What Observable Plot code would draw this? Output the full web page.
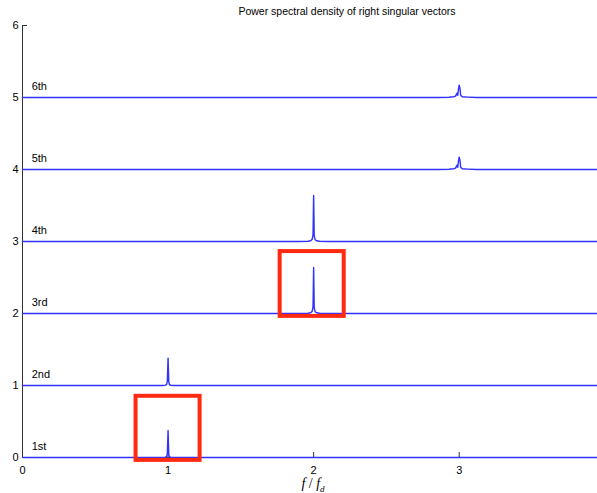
<!DOCTYPE html>
<html>
<head>
<meta charset="utf-8">
<script src="https://cdn.jsdelivr.net/npm/d3@7"></script>
<script src="https://cdn.jsdelivr.net/npm/@observablehq/plot@0.6"></script>
<style>
  body { margin: 0; background: #fff; }
  #wrap { position: relative; width: 597px; height: 493px; font-family: "Liberation Sans", Arial, sans-serif; }
  #title { position: absolute; left: 0; top: 5px; width: 694px; text-align: center; font-size: 10.5px; color: #000; }
  #xlabel { position: absolute; left: 0; top: 477px; width: 626px; text-align: center; font-family: "Liberation Serif", "Times New Roman", serif; font-style: italic; font-size: 14px; line-height: 14px; }
  #xlabel sub { font-size: 9px; }
</style>
</head>
<body>
<div id="wrap">
  <div id="title">Power spectral density of right singular vectors</div>
  <div id="xlabel">f<span style="font-style:normal"> / </span>f<sub>d</sub></div>
</div>
<script>
// Series labels and offsets
const labels = ["1st", "2nd", "3rd", "4th", "5th", "6th"];
const offsets = [0, 1, 2, 3, 4, 5];

// Normalized frequency samples (f/fd) and PSD values for each right singular vector
const freq1 = [0, 0.96, 0.98, 0.99, 0.995, 1.0, 1.005, 1.01, 1.02, 1.04, 3.95];
const psd1  = [0, 0, 0.004, 0.01, 0.05, 0.375, 0.04, 0.008, 0.003, 0, 0];
const freq2 = [0, 0.96, 0.98, 0.99, 0.995, 1.0, 1.005, 1.01, 1.02, 1.04, 3.95];
const psd2  = [0, 0, 0.004, 0.012, 0.06, 0.38, 0.05, 0.01, 0.003, 0, 0];
const freq3 = [0, 1.9, 1.96, 1.98, 1.99, 1.996, 2.0, 2.004, 2.01, 2.02, 2.04, 2.1, 3.95];
const psd3  = [0, 0, 0.004, 0.01, 0.03, 0.1, 0.64, 0.08, 0.025, 0.01, 0.003, 0, 0];
const freq4 = [0, 1.9, 1.96, 1.98, 1.99, 1.996, 2.0, 2.004, 2.01, 2.02, 2.04, 2.1, 3.95];
const psd4  = [0, 0, 0.004, 0.01, 0.03, 0.1, 0.64, 0.08, 0.025, 0.01, 0.003, 0, 0];
const freq5 = [0, 2.85, 2.93, 2.96, 2.975, 2.985, 2.99, 2.995, 3.0, 3.005, 3.01, 3.02, 3.06, 3.12, 3.95];
const psd5  = [0, 0, 0.004, 0.01, 0.02, 0.06, 0.03, 0.12, 0.17, 0.13, 0.03, 0.01, 0.005, 0, 0];
const freq6 = [0, 2.85, 2.93, 2.96, 2.975, 2.985, 2.99, 2.995, 3.0, 3.005, 3.01, 3.02, 3.06, 3.12, 3.95];
const psd6  = [0, 0, 0.004, 0.01, 0.02, 0.06, 0.03, 0.12, 0.17, 0.13, 0.03, 0.01, 0.005, 0, 0];

// Highlight boxes (f range, level range)
const boxF1 = [0.78, 1.77];
const boxF2 = [1.22, 2.21];
const boxL1 = [-0.04, 1.96];
const boxL2 = [0.85, 2.86];

// Tick values
const xTicks = [0, 1, 2, 3];
const yTicks = [0, 1, 2, 3, 4, 5, 6];

const freqs = [freq1, freq2, freq3, freq4, freq5, freq6];
const psds = [psd1, psd2, psd3, psd4, psd5, psd6];
const rows = [];
freqs.forEach((fs, i) => fs.forEach((f, j) => rows.push({series: labels[i], f, v: offsets[i] + psds[i][j]})));
const labelRows = labels.map((s, i) => ({s, y: offsets[i]}));
const boxes = boxF1.map((_, i) => ({x1: boxF1[i], x2: boxF2[i], y1: boxL1[i], y2: boxL2[i]}));

const W = 597, H = 493, ML = 22, MT = 25, MB = 36;
const chart = Plot.plot({
  width: W,
  height: H,
  marginLeft: ML,
  marginRight: 0,
  marginTop: MT,
  marginBottom: MB,
  style: {fontFamily: "'Liberation Sans', Arial, sans-serif", fontSize: "11px", color: "#000", background: "#fff"},
  x: {domain: [0, 3.95]},
  y: {domain: [0, 6]},
  marks: [
    Plot.ruleX([0], {stroke: "#333"}),
    Plot.ruleY([0], {stroke: "#333"}),
    Plot.axisY(yTicks, {tickSize: 0, tickPadding: 4, tickFormat: "d", label: null, fontSize: 11}),
    Plot.axisX(xTicks, {tickSize: 0, tickPadding: 9, tickFormat: "d", label: null, fontSize: 11}),
    Plot.tickY(yTicks, {y: d => d, stroke: "#333", insetRight: W - ML - 5}),
    Plot.tickX(xTicks.slice(1), {x: d => d, stroke: "#333", insetTop: H - MT - MB - 5}),
    Plot.line(rows, {x: "f", y: "v", z: "series", stroke: "#3030ff", strokeWidth: 1.4, curve: "linear", strokeLinejoin: "round"}),
    Plot.text(labelRows, {x: 0.063, y: "y", text: "s", textAnchor: "start", dy: -11, fontSize: 11}),
    Plot.rect(boxes, {x1: "x1", x2: "x2", y1: "y1", y2: "y2", fill: "none", stroke: "#ff2a10", strokeWidth: 4})
  ]
});
const wrap = document.getElementById("wrap");
chart.style.position = "absolute";
chart.style.left = "0";
chart.style.top = "0";
wrap.insertBefore(chart, wrap.firstChild);
</script>
</body>
</html>
